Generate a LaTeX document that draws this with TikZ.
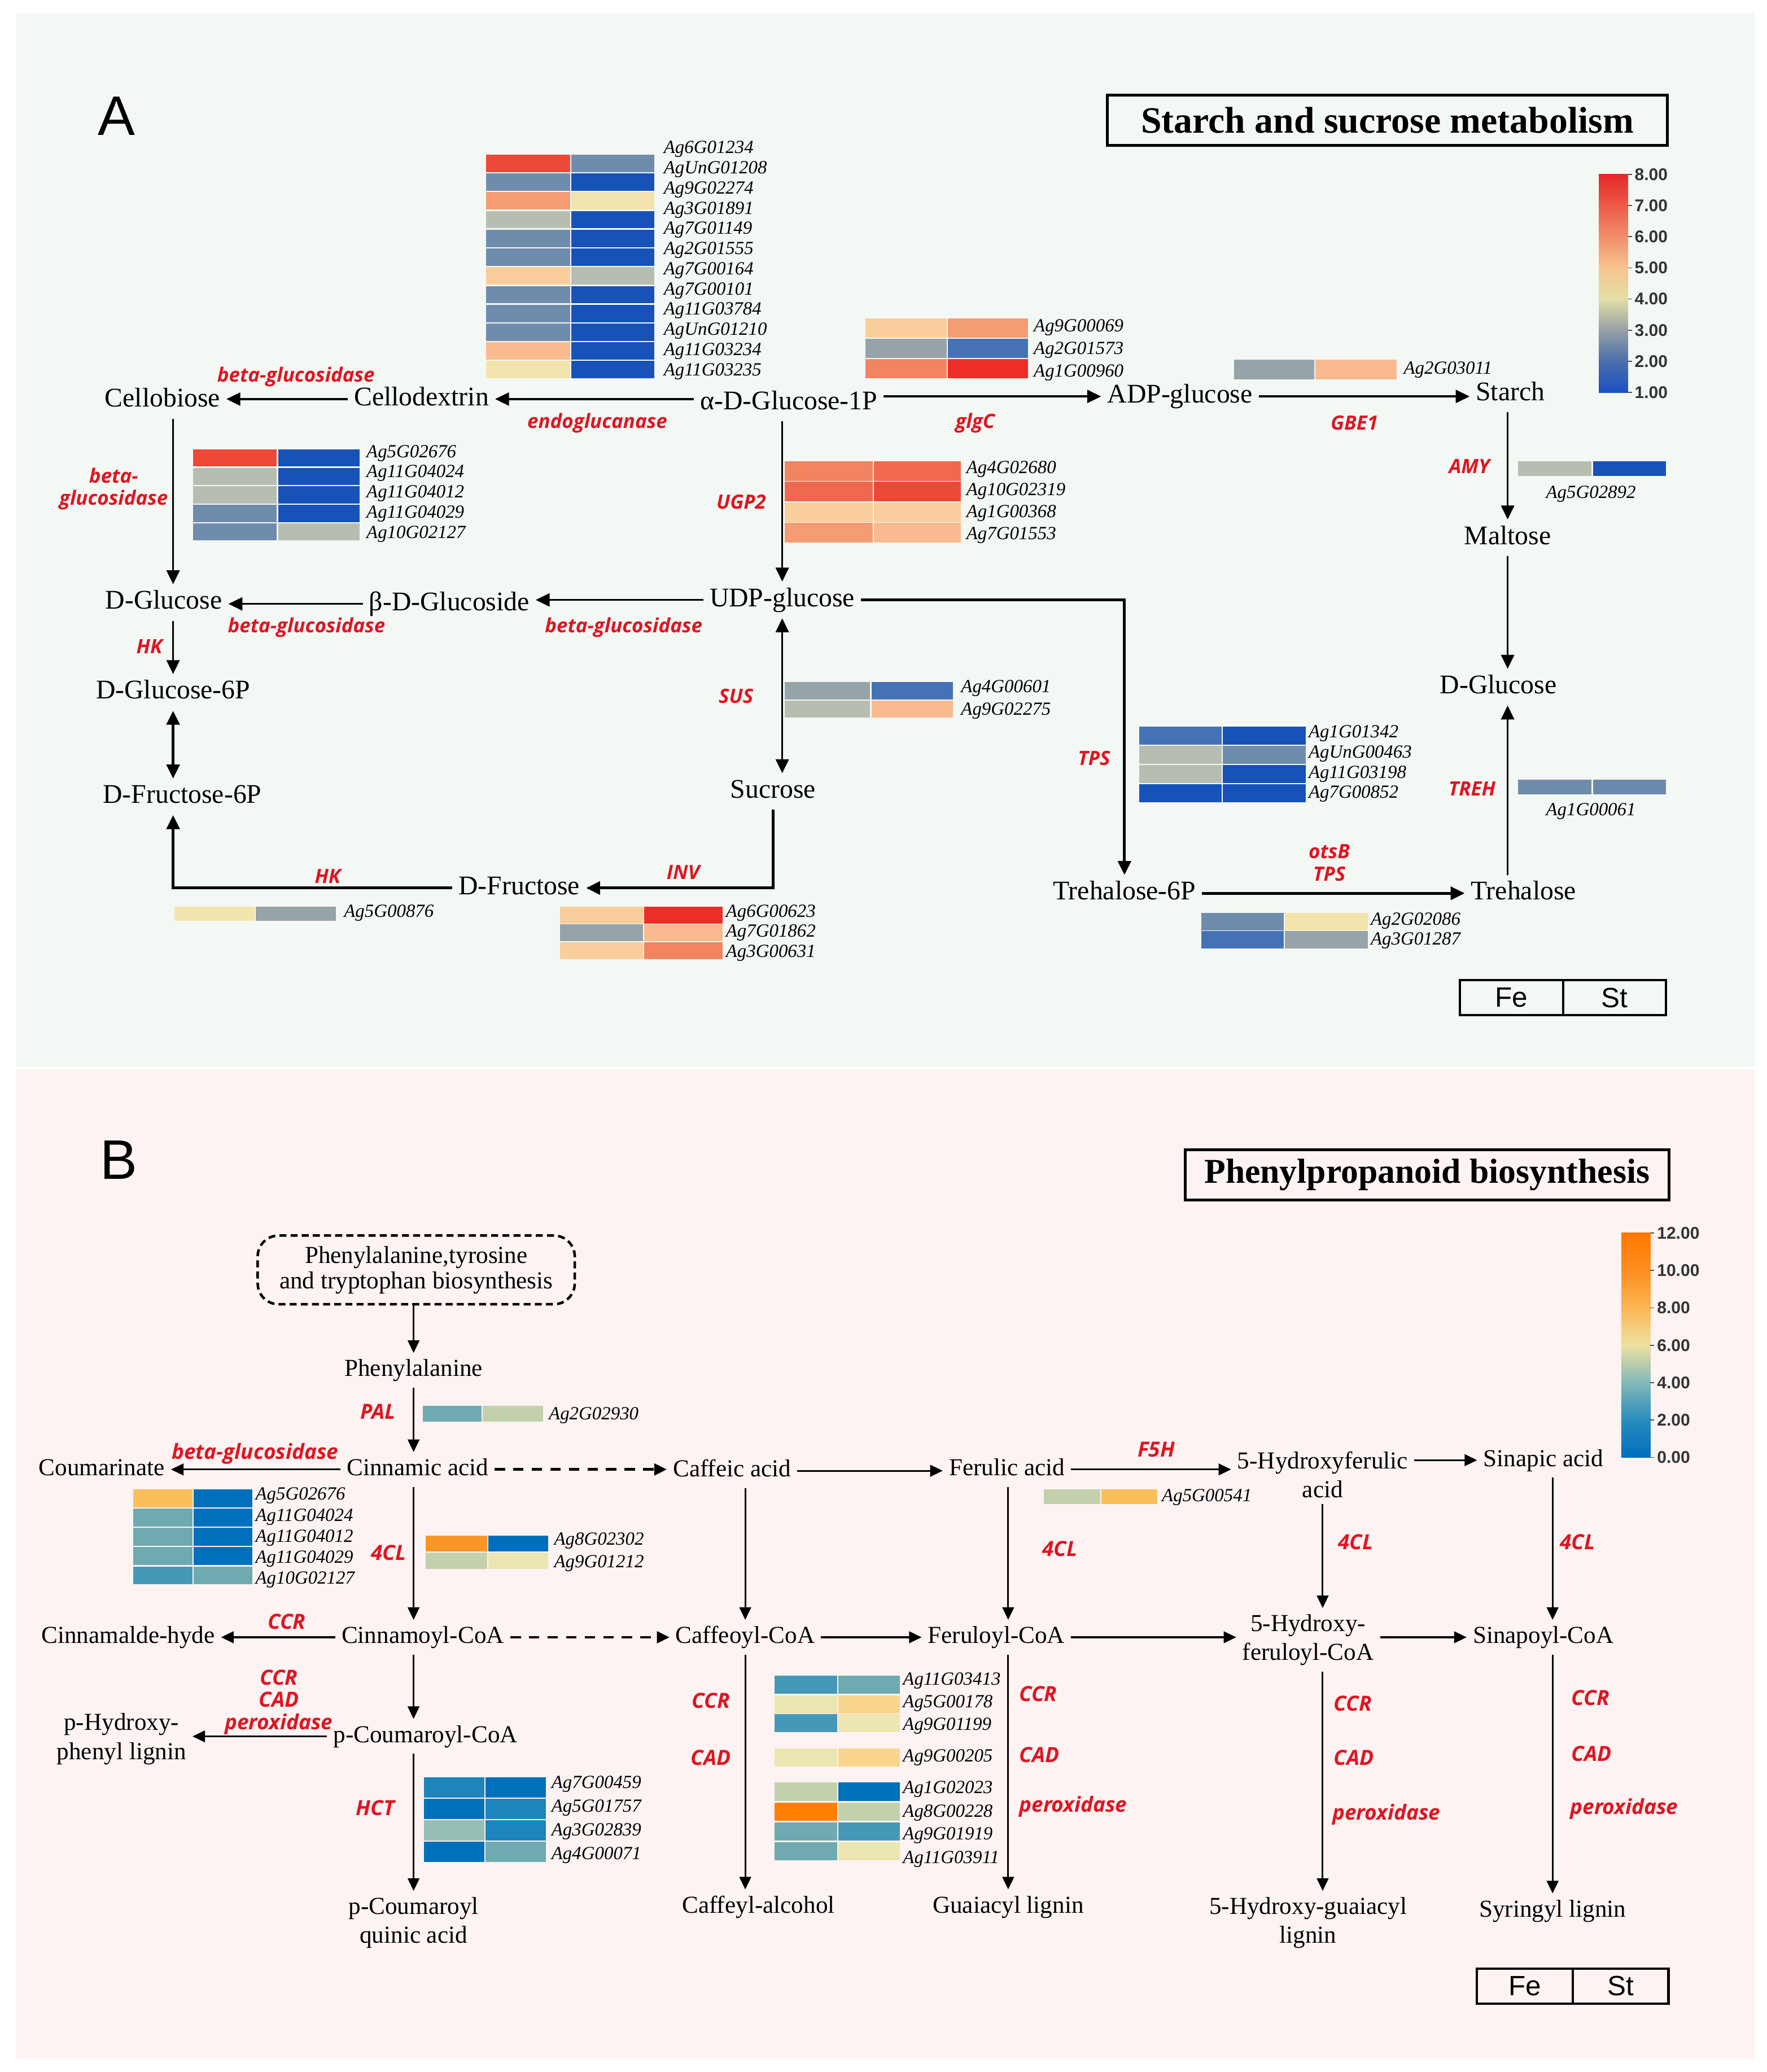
\documentclass[tikz,border=0pt]{standalone}
\usepackage{fontspec}
\setmainfont{Liberation Serif}
\setsansfont{Liberation Sans}
\newfontfamily\enzfam{Open Sans}
\usepackage{tikz}
\usetikzlibrary{arrows.meta}
\usetikzlibrary{positioning}

\definecolor{bgA}{RGB}{244,248,244}
\definecolor{bgB}{RGB}{253,243,243}
\definecolor{ered}{RGB}{222,22,34}
% blue-red scale (panel A)
\definecolor{hR}{RGB}{236,45,40}
\definecolor{hR2}{RGB}{238,72,55}
\definecolor{hS1}{RGB}{239,105,80}
\definecolor{hS2}{RGB}{242,132,97}
\definecolor{hS3}{RGB}{245,156,116}
\definecolor{hO}{RGB}{248,186,142}
\definecolor{hP}{RGB}{249,206,156}
\definecolor{hY}{RGB}{242,228,172}
\definecolor{hG}{RGB}{182,190,178}
\definecolor{hGr}{RGB}{150,163,168}
\definecolor{hSt}{RGB}{112,140,172}
\definecolor{hSb}{RGB}{68,114,180}
\definecolor{hB}{RGB}{22,82,184}
\definecolor{cA8}{RGB}{230,40,40}
\definecolor{cA7}{RGB}{236,90,72}
\definecolor{cA6}{RGB}{241,142,106}
\definecolor{cA5}{RGB}{246,196,142}
\definecolor{cA4}{RGB}{226,222,166}
\definecolor{cA3}{RGB}{150,160,166}
\definecolor{cA2}{RGB}{75,110,172}
\definecolor{cA1}{RGB}{25,80,196}
% blue-orange scale (panel B)
\definecolor{kO}{RGB}{255,128,0}
\definecolor{kO2}{RGB}{250,150,40}
\definecolor{kYo}{RGB}{250,190,90}
\definecolor{kLy}{RGB}{249,212,140}
\definecolor{kPy}{RGB}{235,230,178}
\definecolor{kGg}{RGB}{195,208,172}
\definecolor{kT3}{RGB}{150,190,180}
\definecolor{kT}{RGB}{110,170,175}
\definecolor{kT2}{RGB}{70,152,185}
\definecolor{kB2}{RGB}{30,132,188}
\definecolor{kB}{RGB}{0,112,188}
\definecolor{cB12}{RGB}{255,120,0}
\definecolor{cB10}{RGB}{253,142,32}
\definecolor{cB8}{RGB}{250,182,82}
\definecolor{cB6}{RGB}{238,224,162}
\definecolor{cB4}{RGB}{130,185,185}
\definecolor{cB2}{RGB}{40,140,190}
\definecolor{cB0}{RGB}{0,110,190}

\begin{document}
\begin{tikzpicture}[x=0.02cm, y=-0.02cm,
    met/.style={font=\fontsize{11.6}{13}\selectfont, inner sep=2.5pt, text height=8pt, text depth=2.4pt},
    metB/.style={font=\fontsize{10.5}{12.5}\selectfont, inner sep=2.5pt, text height=7.4pt, text depth=2.2pt},
    metBB/.style={font=\fontsize{10.5}{12.5}\selectfont, inner sep=2.5pt, align=center},
    gene/.style={font=\itshape\fontsize{8}{9}\selectfont, anchor=west, inner sep=0pt},
    enz/.style={font=\enzfam\bfseries\itshape\fontsize{8.5}{9.6}\selectfont, text=ered, inner sep=0pt},
    enzB/.style={font=\enzfam\bfseries\itshape\fontsize{9}{9.6}\selectfont, text=ered, inner sep=0pt},
    arr/.style={-{Triangle[length=6pt,width=5.6pt]}, line width=0.85pt},
    arrthick/.style={-{Triangle[length=6pt,width=5.6pt]}, line width=1.2pt},
    arrB/.style={-{Triangle[length=5.4pt,width=5pt]}, line width=0.75pt},
    arrdash/.style={-{Triangle[length=5.4pt,width=5pt]}, line width=1.1pt, dash pattern=on 4.5pt off 3.5pt},
    titlebox/.style={rectangle, draw, line width=1.2pt, minimum height=0.76cm, font=\bfseries\fontsize{16}{18}\selectfont},
    legbox/.style={rectangle, draw, line width=1pt, minimum width=1.56cm, minimum height=0.5cm, font=\sffamily\fontsize{12}{12}\selectfont},
    panel/.style={font=\sffamily\fontsize{24}{24}\selectfont},
    tick/.style={font=\sffamily\bfseries\fontsize{7.3}{8}\selectfont, text=black!80, anchor=west, inner sep=1pt},
    pathbox/.style={rectangle, draw, dashed, dash pattern=on 3pt off 1.8pt, line width=1.1pt, rounded corners=9pt,
      minimum width=4.8cm, minimum height=1.04cm, align=center, font=\fontsize{10.5}{11}\selectfont}
  ]
  \fill[white] (0,0) rectangle (1337,1568);
  \useasboundingbox (0,0) rectangle (1337,1568);
  \fill[bgA] (12,10) rectangle (1328,807);
  \fill[bgB] (12,809) rectangle (1328,1558);

  % ===== A: starch and sucrose metabolism =====
  \node[panel] (labA) at (88,88) {A};
  \node[titlebox, minimum width=8.48cm] (titleA) at (1050,91) {Starch and sucrose metabolism};

  % colour scale A
  \foreach \ya/\yb/\ca/\cb in {132/155.8/cA8/cA7, 155.6/179.3/cA7/cA6, 179.1/202.9/cA6/cA5, 202.7/226.5/cA5/cA4,
      226.3/250.1/cA4/cA3, 249.9/273.6/cA3/cA2, 273.4/297/cA2/cA1}
    \shade[top color=\ca, bottom color=\cb] (1210,\ya) rectangle (1232,\yb);
  \foreach \v [count=\i from 0] in {8.00,7.00,6.00,5.00,4.00,3.00,2.00,1.00}
    {\draw[black!70] (1232,{132+\i*23.57}) -- (1235,{132+\i*23.57});
     \node[tick] (tA\i) at (1235,{132+\i*23.57}) {\v};}

  % metabolites
  \node[met] (cellobiose) at (123,303) {Cellobiose};
  \node[met] (cellodex)   at (319,302) {Cellodextrin};
  \node[met] (agp)        at (597,305) {α-D-Glucose-1P};
  \node[met] (adpg)       at (893,300) {ADP-glucose};
  \node[met] (starch)     at (1143,298) {Starch};
  \node[met] (maltose)    at (1141,407) {Maltose};
  \node[met] (glcR)       at (1134,520) {D-Glucose};
  \node[met] (trehalose)  at (1153,676) {Trehalose};
  \node[met] (t6p)        at (851,676) {Trehalose-6P};
  \node[met] (udpg)       at (592,454) {UDP-glucose};
  \node[met] (sucrose)    at (585,599) {Sucrose};
  \node[met] (fructose)   at (393,672) {D-Fructose};
  \node[met] (bglc)       at (340,457) {β-D-Glucoside};
  \node[met] (glcL)       at (124,456) {D-Glucose};
  \node[met] (g6p)        at (131,524) {D-Glucose-6P};
  \node[met] (f6p)        at (138,603) {D-Fructose-6P};

  % enzymes
  \node[enz] (eA1)  at (224,285) {beta-glucosidase};
  \node[enz] (eA2)  at (452,320) {endoglucanase};
  \node[enz] (eA3)  at (738,320) {glgC};
  \node[enz] (eA4)  at (1025,320) {GBE1};
  \node[enz] (eA5)  at (1112,353) {AMY};
  \node[enz, align=center] (eA6) at (86,370) {beta-\\glucosidase};
  \node[enz] (eA7)  at (561,380) {UGP2};
  \node[enz] (eA8)  at (113,489) {HK};
  \node[enz] (eA9)  at (232,475) {beta-glucosidase};
  \node[enz] (eA10) at (472,475) {beta-glucosidase};
  \node[enz] (eA11) at (557,527) {SUS};
  \node[enz] (eA12) at (828,574) {TPS};
  \node[enz] (eA13) at (1114,597) {TREH};
  \node[enz, align=center] (eA14) at (1006,653) {otsB\\TPS};
  \node[enz] (eA15) at (517,660) {INV};
  \node[enz] (eA16) at (248,663) {HK};

  % heatmaps A
  \foreach \ca/\cb [count=\i from 0] in {hR2/hSt, hSt/hB, hS3/hY, hG/hB, hSt/hB, hSt/hB, hP/hG, hSt/hB, hSt/hB, hSt/hB, hO/hB, hY/hB}
    {\fill[\ca] (368,{117+\i*14.2}) rectangle (431.5,{130.2+\i*14.2});
     \fill[\cb] (432.5,{117+\i*14.2}) rectangle (495,{130.2+\i*14.2});}
  \foreach \g [count=\i from 0] in {Ag6G01234, AgUnG01208, Ag9G02274, Ag3G01891, Ag7G01149, Ag2G01555,
      Ag7G00164, Ag7G00101, Ag11G03784, AgUnG01210, Ag11G03234, Ag11G03235}
    \node[gene] (endo\i) at (502,{113+\i*15.27}) {\g};

  \foreach \ca/\cb [count=\i from 0] in {hR2/hB, hG/hB, hG/hB, hSt/hB, hSt/hG}
    {\fill[\ca] (146,{340+\i*14}) rectangle (209.5,{353+\i*14});
     \fill[\cb] (210.5,{340+\i*14}) rectangle (272,{353+\i*14});}
  \foreach \g [count=\i from 0] in {Ag5G02676, Ag11G04024, Ag11G04012, Ag11G04029, Ag10G02127}
    \node[gene] (bglA\i) at (277,{343+\i*15.25}) {\g};

  \foreach \ca/\cb [count=\i from 0] in {hP/hS3, hGr/hSb, hS2/hR}
    {\fill[\ca] (655,{241+\i*15.4}) rectangle (716.5,{255.5+\i*15.4});
     \fill[\cb] (717.5,{241+\i*15.4}) rectangle (778,{255.5+\i*15.4});}
  \foreach \g [count=\i from 0] in {Ag9G00069, Ag2G01573, Ag1G00960}
    \node[gene] (glgc\i) at (782,{248+\i*17}) {\g};

  \fill[hGr] (934,272) rectangle (994.5,287);
  \fill[hO] (995.5,272) rectangle (1057,287);
  \node[gene] (gbe0) at (1062,280) {Ag2G03011};

  \fill[hG] (1149,349) rectangle (1204.5,360);
  \fill[hB] (1205.5,349) rectangle (1261,360);
  \node[gene, anchor=center] (amy0) at (1204,374) {Ag5G02892};

  \foreach \ca/\cb [count=\i from 0] in {hS2/hS1, hS1/hR2, hP/hP, hS3/hO}
    {\fill[\ca] (594,{349+\i*15.6}) rectangle (660.5,{363.8+\i*15.6});
     \fill[\cb] (661.5,{349+\i*15.6}) rectangle (727,{363.8+\i*15.6});}
  \foreach \g [count=\i from 0] in {Ag4G02680, Ag10G02319, Ag1G00368, Ag7G01553}
    \node[gene] (ugp\i) at (731,{355+\i*16.7}) {\g};

  \foreach \ca/\cb [count=\i from 0] in {hGr/hSb, hG/hO}
    {\fill[\ca] (594,{516+\i*14}) rectangle (658.5,{529.2+\i*14});
     \fill[\cb] (659.5,{516+\i*14}) rectangle (721,{529.2+\i*14});}
  \foreach \g [count=\i from 0] in {Ag4G00601, Ag9G02275}
    \node[gene] (sus\i) at (727,{521+\i*17}) {\g};

  \foreach \ca/\cb [count=\i from 0] in {hSb/hB, hG/hSt, hG/hB, hB/hB}
    {\fill[\ca] (862,{550+\i*14.5}) rectangle (924.5,{563.7+\i*14.5});
     \fill[\cb] (925.5,{550+\i*14.5}) rectangle (988,{563.7+\i*14.5});}
  \foreach \g [count=\i from 0] in {Ag1G01342, AgUnG00463, Ag11G03198, Ag7G00852}
    \node[gene] (tps\i) at (990,{555+\i*15.3}) {\g};

  \fill[hSt] (1149,590) rectangle (1204.5,601);
  \fill[hSt!90!hSb] (1205.5,590) rectangle (1261,601);
  \node[gene, anchor=center] (treh0) at (1204,614) {Ag1G00061};

  \foreach \ca/\cb [count=\i from 0] in {hSt/hY, hSb/hGr}
    {\fill[\ca] (909,{691+\i*13.6}) rectangle (971.5,{704+\i*13.6});
     \fill[\cb] (972.5,{691+\i*13.6}) rectangle (1035,{704+\i*13.6});}
  \foreach \g [count=\i from 0] in {Ag2G02086, Ag3G01287}
    \node[gene] (ots\i) at (1037,{697+\i*15}) {\g};

  \fill[hY] (132,686) rectangle (192.5,697);
  \fill[hGr] (193.5,686) rectangle (254,697);
  \node[gene] (hk0) at (260,691) {Ag5G00876};

  \foreach \ca/\cb [count=\i from 0] in {hP/hR, hGr/hO, hP/hS2}
    {\fill[\ca] (424,{686+\i*13.5}) rectangle (486.5,{698.8+\i*13.5});
     \fill[\cb] (487.5,{686+\i*13.5}) rectangle (547,{698.8+\i*13.5});}
  \foreach \g [count=\i from 0] in {Ag6G00623, Ag7G01862, Ag3G00631}
    \node[gene] (inv\i) at (549,{691+\i*15}) {\g};

  % reactions A
  \draw[arr] (cellodex.west) -- (cellobiose.east |- cellodex.west);
  \draw[arr] (agp.west |- cellodex.east) -- (cellodex.east);
  \draw[arr] (agp.east |- adpg.west) -- (adpg.west);
  \draw[arr] (adpg.east) -- (starch.west |- adpg.east);
  \draw[arr] (starch.south -| maltose) -- (maltose.north);
  \draw[arr] (maltose.south) -- (glcR.north -| maltose);
  \draw[arr] (trehalose.north -| maltose) -- (glcR.south -| maltose);
  \draw[arrthick] (t6p.east) -- (trehalose.west |- t6p.east);
  \draw[arrthick] (udpg.east) -| (t6p.north);
  \draw[arr] (agp.south -| udpg) -- (udpg.north);
  \draw[arr, {Triangle[length=6pt,width=5.6pt]}-{Triangle[length=6pt,width=5.6pt]}] (udpg.south) -- (sucrose.north -| udpg);
  \draw[arrthick] (sucrose.south) |- (fructose.east);
  \draw[arrthick] (fructose.west) -| (f6p.south -| g6p);
  \draw[arrthick, {Triangle[length=6pt,width=5.6pt]}-{Triangle[length=6pt,width=5.6pt]}] (g6p.south) -- (f6p.north -| g6p);
  \draw[arr] (glcL.south -| g6p) -- (g6p.north);
  \draw[arr] (cellobiose.south -| g6p) -- (glcL.north -| g6p);
  \draw[arr] (udpg.west) -- (bglc.east |- udpg.west);
  \draw[arr] (bglc.west) -- (glcL.east |- bglc.west);

  \node[legbox] (feA) at (1144,755) {Fe};
  \node[legbox] (stA) [right of=feA, node distance=1.56cm] {St};

  % ===== B: phenylpropanoid biosynthesis =====
  \node[panel] (labB) at (90,878) {B};
  \node[titlebox, minimum width=7.32cm, font=\bfseries\fontsize{15}{18}\selectfont] (titleB) at (1080,889) {Phenylpropanoid biosynthesis};

  % colour scale B
  \foreach \ya/\yb/\ca/\cb in {933/961.5/cB12/cB10, 961.2/989.9/cB10/cB8, 989.7/1018.2/cB8/cB6, 1018/1046.5/cB6/cB4,
      1046.3/1074.9/cB4/cB2, 1074.7/1103/cB2/cB0}
    \shade[top color=\ca, bottom color=\cb] (1227,\ya) rectangle (1249,\yb);
  \foreach \v [count=\i from 0] in {12.00,10.00,8.00,6.00,4.00,2.00,0.00}
    {\draw[black!70] (1249,{933+\i*28.33}) -- (1252,{933+\i*28.33});
     \node[tick] (tB\i) at (1252,{933+\i*28.33}) {\v};}

  % metabolites
  \node[pathbox] (pathbox) at (315,961) {Phenylalanine,tyrosine\\and tryptophan biosynthesis};
  \node[metB] (phe)     at (313,1037) {Phenylalanine};
  \node[metB] (cin)     at (316,1112) {Cinnamic acid};
  \node[metB] (coum)    at (77,1112) {Coumarinate};
  \node[metB] (caffeic) at (554,1113) {Caffeic acid};
  \node[metB] (ferulic) at (762,1112) {Ferulic acid};
  \node[metBB] (hfa)    at (1001,1116) {5-Hydroxyferulic\\acid};
  \node[metB] (sinapic) at (1168,1105) {Sinapic acid};
  \node[metB] (cinco)   at (320,1239) {Cinnamoyl-CoA};
  \node[metB] (cinald)  at (97,1239) {Cinnamalde-hyde};
  \node[metB] (caffco)  at (564,1239) {Caffeoyl-CoA};
  \node[metB] (ferco)   at (754,1239) {Feruloyl-CoA};
  \node[metBB] (hfco)   at (990,1241) {5-Hydroxy-\\feruloyl-CoA};
  \node[metB] (sinco)   at (1168,1239) {Sinapoyl-CoA};
  \node[metB] (pcco)    at (322,1314) {p-Coumaroyl-CoA};
  \node[metBB] (phl)    at (92,1316) {p-Hydroxy-\\phenyl lignin};
  \node[metBB] (pcq)    at (313,1455) {p-Coumaroyl\\quinic acid};
  \node[metB] (caffalc) at (574,1443) {Caffeyl-alcohol};
  \node[metB] (guai)    at (763,1443) {Guaiacyl lignin};
  \node[metBB] (hgl)    at (990,1455) {5-Hydroxy-guaiacyl\\lignin};
  \node[metB] (syr)     at (1175,1446) {Syringyl lignin};

  % enzymes
  \node[enzB] (eB1)  at (286,1068) {PAL};
  \node[enzB] (eB2)  at (193,1100) {beta-glucosidase};
  \node[enzB] (eB3)  at (875,1097) {F5H};
  \node[enzB] (eB4)  at (294,1175) {4CL};
  \node[enzB] (eB5)  at (802,1172) {4CL};
  \node[enzB] (eB6)  at (1026,1167) {4CL};
  \node[enzB] (eB7)  at (1194,1167) {4CL};
  \node[enzB] (eB8)  at (217,1227) {CCR};
  \node[enzB, align=center] (eB9) at (211,1288) {CCR\\CAD\\peroxidase};
  \node[enzB] (eB10) at (284,1368) {HCT};
  \node[enzB] (eB11) at (538,1287) {CCR};
  \node[enzB] (eB12) at (538,1330) {CAD};
  \node[enzB, anchor=west] (eB13) at (771,1282) {CCR};
  \node[enzB, anchor=west] (eB14) at (771,1328) {CAD};
  \node[enzB, anchor=west] (eB15) at (771,1367) {peroxidase};
  \node[enzB, anchor=west] (eB16) at (1009,1289) {CCR};
  \node[enzB, anchor=west] (eB17) at (1009,1330) {CAD};
  \node[enzB, anchor=west] (eB18) at (1008,1373) {peroxidase};
  \node[enzB, anchor=west] (eB19) at (1189,1285) {CCR};
  \node[enzB, anchor=west] (eB20) at (1189,1327) {CAD};
  \node[enzB, anchor=west] (eB21) at (1188,1369) {peroxidase};

  % heatmaps B
  \fill[kT] (320,1064) rectangle (364.5,1076);
  \fill[kGg] (365.5,1064) rectangle (411,1076);
  \node[gene] (pal0) at (415,1071) {Ag2G02930};

  \foreach \ca/\cb [count=\i from 0] in {kYo/kB, kT/kB, kT/kB, kT/kB, kT2/kT}
    {\fill[\ca] (101,{1127+\i*14.6}) rectangle (145.5,{1140.6+\i*14.6});
     \fill[\cb] (146.5,{1127+\i*14.6}) rectangle (191,{1140.6+\i*14.6});}
  \foreach \g [count=\i from 0] in {Ag5G02676, Ag11G04024, Ag11G04012, Ag11G04029, Ag10G02127}
    \node[gene] (bglB\i) at (193,{1132+\i*15.9}) {\g};

  \fill[kGg] (790,1127) rectangle (832.5,1138);
  \fill[kYo] (833.5,1127) rectangle (876,1138);
  \node[gene] (f5h0) at (879,1133) {Ag5G00541};

  \foreach \ca/\cb [count=\i from 0] in {kO2/kB, kGg/kPy}
    {\fill[\ca] (322,{1162+\i*13}) rectangle (368.5,{1174.2+\i*13});
     \fill[\cb] (369.5,{1162+\i*13}) rectangle (415,{1174.2+\i*13});}
  \foreach \g [count=\i from 0] in {Ag8G02302, Ag9G01212}
    \node[gene] (fcl\i) at (419,{1166+\i*17}) {\g};

  \foreach \ca/\cb [count=\i from 0] in {kB2/kB, kB/kB2, kT3/kB2, kB/kT}
    {\fill[\ca] (321,{1345+\i*16.25}) rectangle (366.5,{1360.5+\i*16.25});
     \fill[\cb] (367.5,{1345+\i*16.25}) rectangle (413,{1360.5+\i*16.25});}
  \foreach \g [count=\i from 0] in {Ag7G00459, Ag5G01757, Ag3G02839, Ag4G00071}
    \node[gene] (hct\i) at (417,{1350+\i*18}) {\g};

  \foreach \y/\ly/\ca/\cb/\g [count=\i] in {1268/1272/kT2/kT/Ag11G03413, 1283/1289/kPy/kLy/Ag5G00178,
      1297/1306/kT2/kPy/Ag9G01199, 1323/1330/kPy/kLy/Ag9G00205, 1349/1354/kGg/kB/Ag1G02023,
      1364/1372/kO/kGg/Ag8G00228, 1379/1389/kT/kT2/Ag9G01919, 1394/1407/kT/kPy/Ag11G03911}
    {\fill[\ca] (586,\y) rectangle (633.5,{\y+13.8});
     \fill[\cb] (634.5,\y) rectangle (681,{\y+13.8});
     \node[gene] (lig\i) at (683,\ly) {\g};}

  % reactions B
  \draw[arrB] (pathbox.south -| phe) -- (phe.north);
  \draw[arrB] (phe.south) -- (cin.north -| phe);
  \draw[arrB] (cin.west) -- (coum.east |- cin.west);
  \draw[arrdash] (cin.east) -- (caffeic.west |- cin.east);
  \draw[arrB] (caffeic.east) -- (ferulic.west |- caffeic.east);
  \draw[arrB] (ferulic.east) -- (hfa.west |- ferulic.east);
  \draw[arrB] (hfa.east |- sinapic.west) -- (sinapic.west);
  \draw[arrB] (cin.south -| phe) -- (cinco.north -| phe);
  \draw[arrB] (caffeic.south -| caffco) -- (caffco.north);
  \draw[arrB] (ferulic.south -| guai) -- (ferco.north -| guai);
  \draw[arrB] (hfa.south) -- (hfco.north -| hfa);
  \draw[arrB] (sinapic.south -| syr) -- (sinco.north -| syr);
  \draw[arrB] (cinco.west) -- (cinald.east |- cinco.west);
  \draw[arrdash] (cinco.east) -- (caffco.west |- cinco.east);
  \draw[arrB] (caffco.east) -- (ferco.west |- caffco.east);
  \draw[arrB] (ferco.east) -- (hfco.west |- ferco.east);
  \draw[arrB] (hfco.east |- sinco.west) -- (sinco.west);
  \draw[arrB] (cinco.south -| phe) -- (pcco.north -| phe);
  \draw[arrB] (pcco.west) -- (phl.east |- pcco.west);
  \draw[arrB] (pcco.south -| phe) -- (pcq.north);
  \draw[arrB] (caffco.south) -- (caffalc.north -| caffco);
  \draw[arrB] (ferco.south -| guai) -- (guai.north);
  \draw[arrB] (hfco.south -| hfa) -- (hgl.north -| hfa);
  \draw[arrB] (sinco.south -| syr) -- (syr.north);

  \node[legbox, minimum width=1.45cm, minimum height=0.46cm] (feB) at (1154,1503) {Fe};
  \node[legbox, minimum width=1.45cm, minimum height=0.46cm] (stB) [right of=feB, node distance=1.45cm] {St};
\end{tikzpicture}
\end{document}
